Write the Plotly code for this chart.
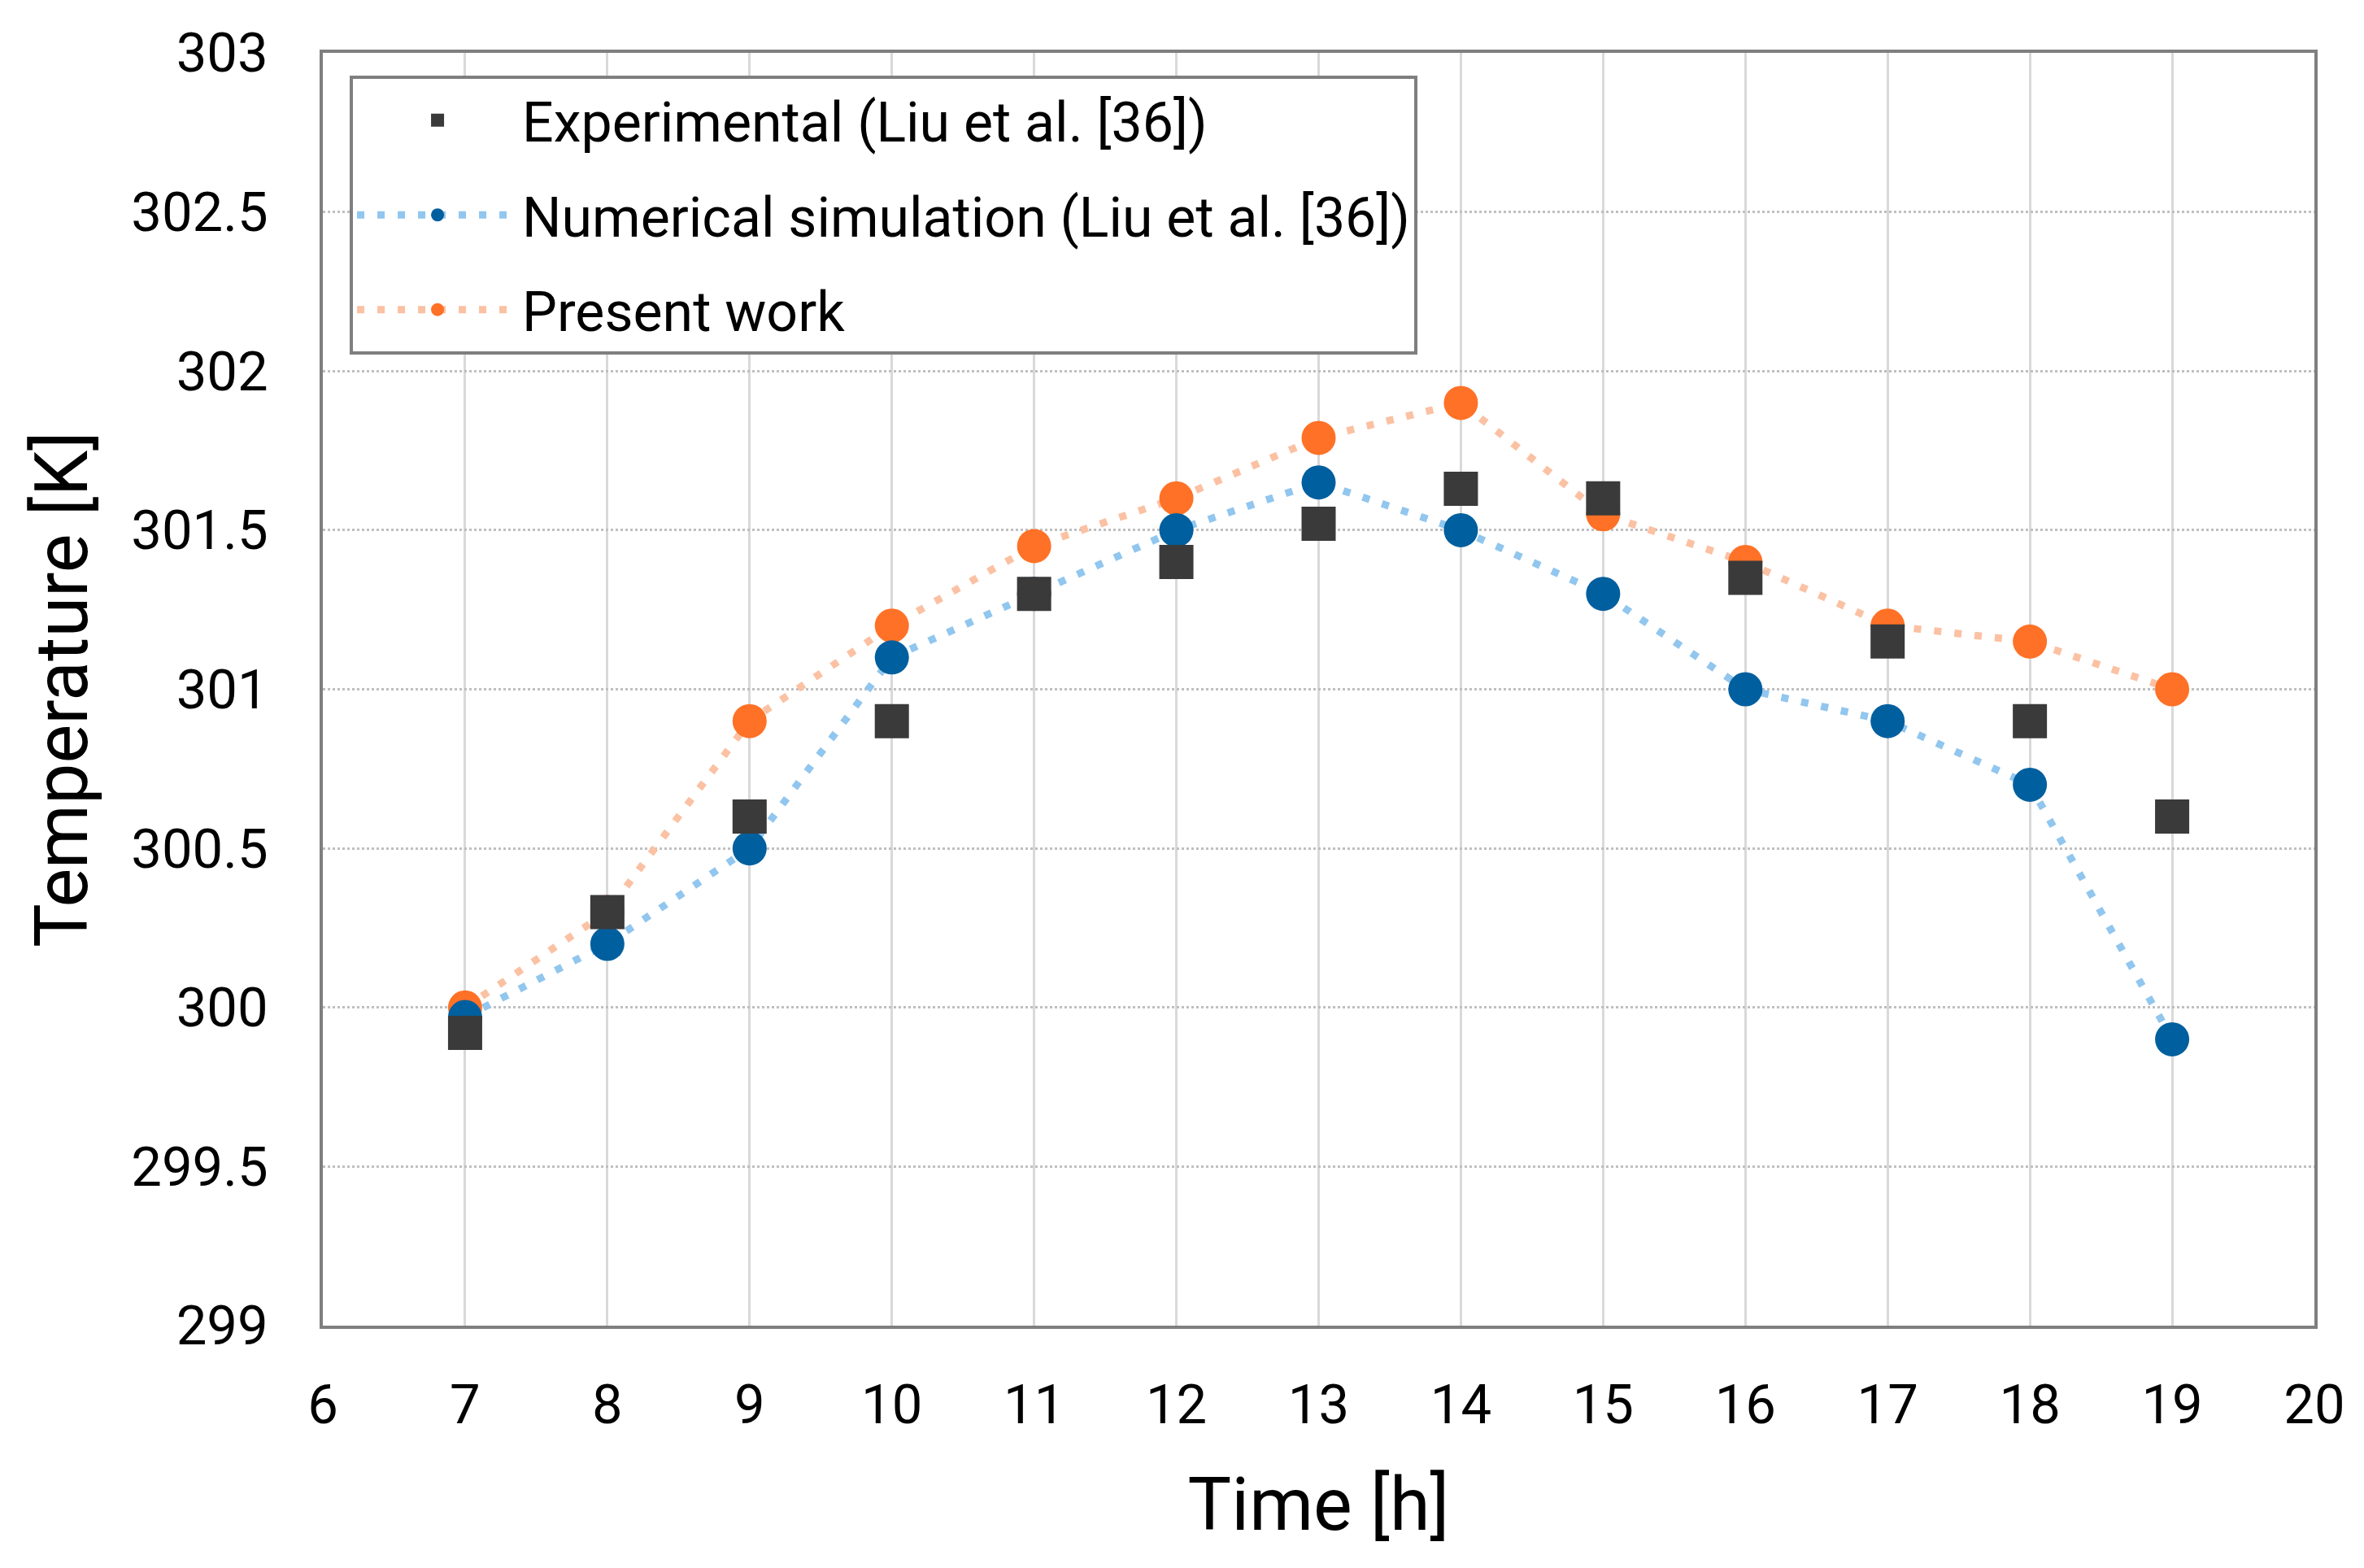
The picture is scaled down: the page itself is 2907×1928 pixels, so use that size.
import plotly.graph_objects as go

time_h = [7, 8, 9, 10, 11, 12, 13, 14, 15, 16, 17, 18, 19]
experimental = [299.92, 300.30, 300.60, 300.90, 301.30, 301.40, 301.52, 301.63, 301.60, 301.35, 301.15, 300.90, 300.60]
numerical = [299.97, 300.20, 300.50, 301.10, 301.30, 301.50, 301.65, 301.50, 301.30, 301.00, 300.90, 300.70, 299.90]
present = [300.00, 300.30, 300.90, 301.20, 301.45, 301.60, 301.79, 301.90, 301.55, 301.40, 301.20, 301.15, 301.00]

x_ticks = list(range(6, 21))
y_ticks = [299, 299.5, 300, 300.5, 301, 301.5, 302, 302.5, 303]

FONT = "Roboto, sans-serif"

fig = go.Figure()
fig.add_trace(go.Scatter(
    x=time_h, y=present, name="Present work", mode="lines+markers",
    legendgroup="c", legendrank=3,
    line=dict(color="#FBC1A3", width=9, dash="9px,16px"),
    marker=dict(color="#FF7126", size=42, symbol="circle"),
))
fig.add_trace(go.Scatter(
    x=time_h, y=numerical, name="Numerical simulation (Liu et al. [36])", mode="lines+markers",
    legendgroup="b", legendrank=2,
    line=dict(color="#91C6EE", width=9, dash="9px,16px"),
    marker=dict(color="#005F9E", size=42, symbol="circle"),
))
fig.add_trace(go.Scatter(
    x=time_h, y=experimental, name="Experimental (Liu et al. [36])", mode="markers",
    legendgroup="a", legendrank=1,
    marker=dict(color="#3A3A3A", size=42, symbol="square"),
))

fig.update_layout(
    width=2907, height=1928,
    margin=dict(l=389, r=69, t=57, b=306),
    paper_bgcolor="white", plot_bgcolor="white",
    font=dict(family=FONT, color="black", size=67),
    showlegend=True,
    legend=dict(
        x=0.0135, y=0.982, xanchor="left", yanchor="top",
        bgcolor="white", bordercolor="#7F7F7F", borderwidth=4,
        font=dict(family=FONT, size=68, color="black"),
        traceorder="grouped", tracegroupgap=25,
        itemwidth=198, itemsizing="trace",
    ),
    xaxis=dict(
        range=[6, 20], tickvals=x_ticks, tickmode="array",
        showgrid=True, gridcolor="#D9D9D9", gridwidth=3,
        showline=True, linecolor="#7F7F7F", linewidth=4, mirror=True,
        ticks="outside", ticklen=36, tickcolor="rgba(0,0,0,0)",
        tickfont=dict(family=FONT, size=67),
        zeroline=False,
        title=dict(text="Time [h]", font=dict(family=FONT, size=90), standoff=54),
    ),
    yaxis=dict(
        range=[299, 303], tickvals=y_ticks, tickmode="array",
        showgrid=True, gridcolor="#BFBFBF", gridwidth=3, griddash="dot",
        showline=True, linecolor="#7F7F7F", linewidth=4, mirror=True,
        ticks="outside", ticklen=50, tickcolor="rgba(0,0,0,0)",
        tickfont=dict(family=FONT, size=67),
        zeroline=False,
        title=dict(text="Temperature [K]", font=dict(family=FONT, size=90), standoff=25),
    ),
)

fig.write_html("out.html")
